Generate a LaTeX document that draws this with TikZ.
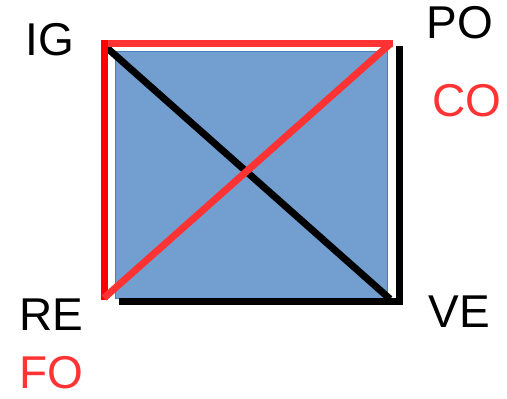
\documentclass[tikz,border=0pt]{standalone}
\usepackage{fontspec}
\setmainfont{Liberation Sans}
\definecolor{sqfill}{RGB}{114,159,207}
\definecolor{sqedge}{RGB}{74,126,187}
\definecolor{lred}{RGB}{255,51,51}
\definecolor{pred}{RGB}{255,0,0}
\begin{document}
\begin{tikzpicture}[x=1pt,y=-1pt,
  lbl/.style={anchor=base,inner sep=0pt,font=\fontsize{46}{46}\selectfont},
  thick line/.style={line width=7pt,line cap=butt}]
\useasboundingbox (0,0) rectangle (507,399);
% square
\coordinate (tl) at (115,51);
\coordinate (br) at (387,298);
\draw[sqedge,fill=sqfill,line width=1pt] (tl) rectangle (br);
% named end points
\coordinate (rt1) at (101,43);
\coordinate (rt2) at (393,43);
\coordinate (rl1) at (104,40);
\coordinate (rl2) at (104,300);
\coordinate (rd1) at (104,298);
\coordinate (rd2) at (390,44);
\coordinate (bd1) at (106,47);
\coordinate (bd2) at (390,299);
\coordinate (br1) at (399,46);
\coordinate (br2) at (399,305);
\coordinate (bb1) at (119,301);
\coordinate (bb2) at (403,301);
% black lines
\draw[thick line,black] (bd1) -- (bd2);
\draw[thick line,black] (br1) -- (br2);
\draw[thick line,black] (bb1) -- (bb2);
% red lines
\draw[thick line,lred] (rt1) -- (rt2);
\draw[thick line,pred] (rl1) -- (rl2);
\draw[thick line,lred] (rd1) -- (rd2);
% labels
\node[lbl] (ig) at (50,55) {IG};
\node[lbl] (po) at (460,38) {PO};
\node[lbl,text=lred] (co) at (467,116) {CO};
\node[lbl] (re) at (51,330) {RE};
\node[lbl,text=lred] (fo) at (51,388) {FO};
\node[lbl] (ve) at (459,327) {VE};
\end{tikzpicture}
\end{document}
